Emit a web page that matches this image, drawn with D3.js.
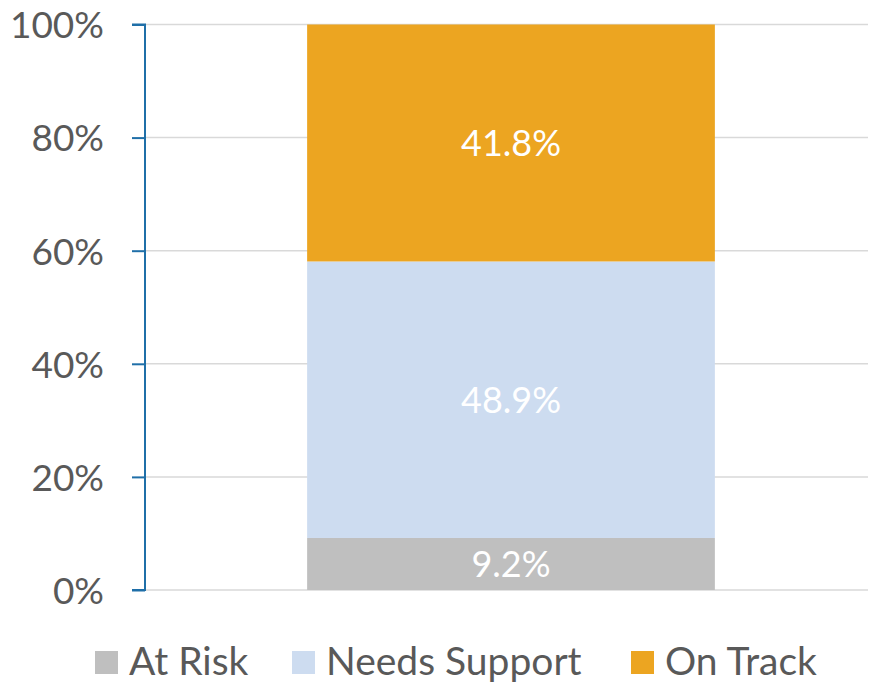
<!DOCTYPE html>
<html><head><meta charset="utf-8">
<script src="https://cdn.jsdelivr.net/npm/d3@7"></script>
<style>body{margin:0;background:#fff}svg{display:block}</style>
</head><body>
<svg id="c" width="869" height="682"></svg>
<script>
const categories = ["All"];
const seriesNames = ["At Risk", "Needs Support", "On Track"];
const atRisk = [9.2];
const needsSupport = [48.9];
const onTrack = [41.8];
const yTicks = [0, 20, 40, 60, 80, 100];
const colors = ["#bfbfbf", "#cddcf0", "#eca521"];

const svg = d3.select("#c");
const font = "Lato, 'Open Sans', sans-serif";
const y = d3.scaleLinear().domain([0, 100]).range([590, 24.5]);
const x = d3.scaleBand().domain(categories).range([145, 877]).padding(0.2845);

// gridlines
svg.append("g").selectAll("line").data(yTicks).join("line")
  .attr("x1", 145).attr("x2", 868)
  .attr("y1", d => y(d)).attr("y2", d => y(d))
  .attr("stroke", "#d9d9d9").attr("stroke-width", 1.5);

const rows = categories.map((c, i) => ({cat: c, "At Risk": atRisk[i], "Needs Support": needsSupport[i], "On Track": onTrack[i]}));
const stacked = d3.stack().keys(seriesNames)(rows);

const g = svg.append("g");
stacked.forEach((s, si) => {
  const top = d => (si === seriesNames.length - 1 ? Math.max(d[1], 100) : d[1]);
  g.selectAll(null).data(s).join("rect")
    .attr("x", d => x(d.data.cat))
    .attr("width", x.bandwidth())
    .attr("y", d => y(top(d)))
    .attr("height", d => y(d[0]) - y(top(d)))
    .attr("fill", colors[si]);
  g.selectAll(null).data(s).join("text")
    .attr("x", d => x(d.data.cat) + x.bandwidth() / 2)
    .attr("y", d => (y(d[0]) + y(d[1])) / 2)
    .attr("dy", "0.36em")
    .attr("text-anchor", "middle")
    .attr("font-family", font).attr("font-size", 36)
    .attr("fill", "#ffffff")
    .text(d => (d[1] - d[0]).toFixed(1) + "%");
});

// y axis
const axis = d3.axisLeft(y).tickValues(yTicks).tickFormat(d => d + "%").tickSize(13).tickPadding(28);
const ag = svg.append("g").attr("transform", "translate(145,0)").call(axis);
ag.select(".domain").attr("stroke", "#1f6fa8").attr("stroke-width", 2).attr("d", `M-13,${y(100)}H0V${y(0)}H-13`);
ag.selectAll(".tick line").attr("stroke", "#1f6fa8").attr("stroke-width", 2);
ag.selectAll(".tick text").attr("font-family", font).attr("font-size", 37).attr("fill", "#595959").attr("dy", "0.36em");

// legend
const legendX = [95, 292, 631];
const lg = svg.append("g");
seriesNames.forEach((n, i) => {
  lg.append("rect").attr("x", legendX[i]).attr("y", 651).attr("width", 23).attr("height", 23).attr("fill", colors[i]);
  lg.append("text").attr("x", legendX[i] + 34).attr("y", 674.5)
    .attr("font-family", font).attr("font-size", 39).attr("fill", "#595959").text(n);
});
</script>
</body></html>
